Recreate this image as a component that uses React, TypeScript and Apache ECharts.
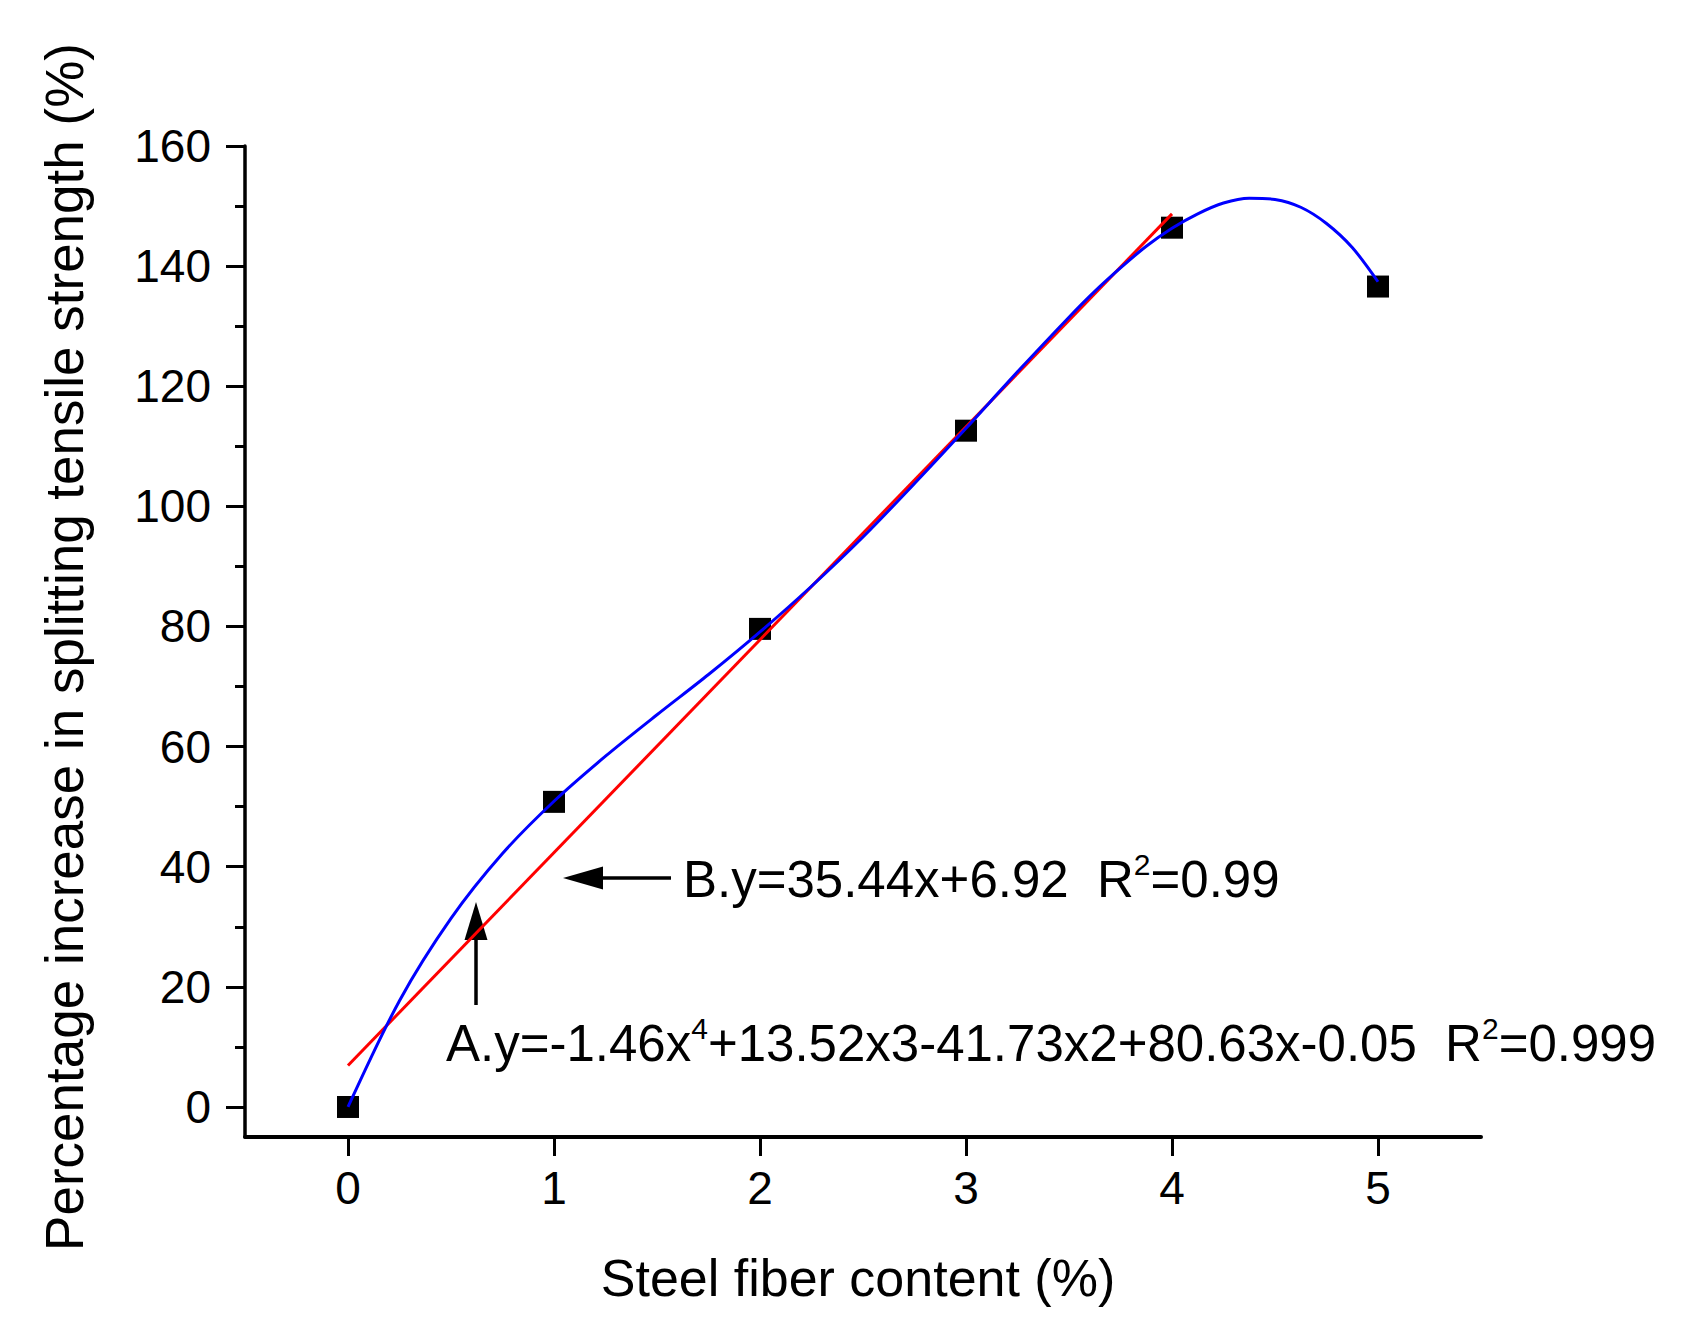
import React, { useEffect, useRef } from "react";
import * as echarts from "echarts";

// ---- data ----
const xTicks = [0, 1, 2, 3, 4, 5];
const yTicks = [0, 20, 40, 60, 80, 100, 120, 140, 160];
const yMinorTicks = [10, 30, 50, 70, 90, 110, 130, 150];

const measuredX = [0, 1, 2, 3, 4, 5];
const measuredY = [0, 50.8, 79.6, 112.6, 146.4, 136.6];

// fitted curve A (blue)
const fitAX = [0, 0.25, 0.5, 0.75, 1, 1.25, 1.5, 1.75, 2, 2.25, 2.5, 2.75, 3, 3.25, 3.5, 3.625, 3.75, 3.875, 4, 4.125, 4.25, 4.375, 4.5, 4.625, 4.75, 4.875, 5];
const fitAY = [0, 17.7, 31.4, 42.2, 50.9, 58.4, 65.3, 72.0, 79.1, 86.7, 94.9, 103.8, 113.0, 122.4, 131.5, 135.8, 139.7, 143.3, 146.3, 148.7, 150.5, 151.3, 151.1, 149.8, 147.1, 143.1, 137.4];

// fitted line B (red)
const fitBX = [0, 4];
const fitBY = [6.9, 148.7];

const xName = "Steel fiber content (%)";
const yName = "Percentage increase in splitting tensile strength (%)";

const FONT = "'Liberation Sans', Arial, sans-serif";

export default function App() {
  const ref = useRef<HTMLDivElement>(null);

  useEffect(() => {
    document.body.style.margin = "0";
    const chart = echarts.init(ref.current!, undefined, { renderer: "svg" });

    const mainStyle = { fontSize: 51, fontFamily: FONT, color: "#000", lineHeight: 60 };
    const supStyle = { fontSize: 30, fontFamily: FONT, color: "#000", lineHeight: 36, verticalAlign: "top" };

    chart.setOption({
      animation: false,
      backgroundColor: "#ffffff",
      grid: { left: 245, top: 146, right: 226, bottom: 199, containLabel: false },
      xAxis: {
        type: "value",
        min: -0.5,
        max: 5.5,
        splitLine: { show: false },
        axisLine: { onZero: false, lineStyle: { color: "#000", width: 4 } },
        axisTick: { show: true, inside: false, length: 19, customValues: xTicks, lineStyle: { color: "#000", width: 3 } },
        axisLabel: { customValues: xTicks, margin: 28, fontSize: 46, fontFamily: FONT, color: "#000" },
      },
      yAxis: [
        {
          type: "value",
          min: -5,
          max: 160,
          splitLine: { show: false },
          axisLine: { onZero: false, lineStyle: { color: "#000", width: 3.5 } },
          axisTick: { show: true, inside: false, length: 19, customValues: yTicks, lineStyle: { color: "#000", width: 3 } },
          axisLabel: { customValues: yTicks, margin: 34, fontSize: 46, fontFamily: FONT, color: "#000" },
        },
        {
          type: "value",
          position: "left",
          min: -5,
          max: 160,
          splitLine: { show: false },
          axisLine: { show: false, onZero: false },
          axisTick: { show: true, inside: false, length: 10, customValues: yMinorTicks, lineStyle: { color: "#000", width: 3 } },
          axisLabel: { show: false },
        },
      ],
      series: [
        {
          type: "scatter",
          data: measuredX.map((x, i) => [x, measuredY[i]]),
          symbol: "rect",
          symbolSize: 22,
          itemStyle: { color: "#000", opacity: 1 },
          z: 1,
        },
        {
          type: "line",
          data: fitBX.map((x, i) => [x, fitBY[i]]),
          symbol: "none",
          lineStyle: { color: "#ff0000", width: 3 },
          z: 2,
        },
        {
          type: "line",
          data: fitAX.map((x, i) => [x, fitAY[i]]),
          symbol: "none",
          smooth: 0.3,
          lineStyle: { color: "#0000ff", width: 3 },
          z: 3,
        },
      ],
      graphic: [
        {
          type: "text",
          x: 64,
          y: 647,
          rotation: Math.PI / 2,
          style: { text: yName, fontSize: 53, fontFamily: FONT, fill: "#000", align: "center", verticalAlign: "middle" },
        },
        {
          type: "text",
          x: 858,
          y: 1278,
          style: { text: xName, fontSize: 52, fontFamily: FONT, fill: "#000", align: "center", verticalAlign: "middle" },
        },
        {
          type: "text",
          x: 683,
          y: 879,
          style: {
            text: "{m|B.y=35.44x+6.92  R}{s|2}{m|=0.99}",
            align: "left",
            verticalAlign: "middle",
            rich: { m: mainStyle, s: supStyle },
          },
        },
        {
          type: "text",
          x: 446,
          y: 1043,
          style: {
            text: "{m|A.y=-1.46x}{s|4}{m|+13.52x3-41.73x2+80.63x-0.05  R}{s|2}{m|=0.999}",
            align: "left",
            verticalAlign: "middle",
            rich: { m: mainStyle, s: supStyle },
          },
        },
        {
          type: "line",
          shape: { x1: 671, y1: 878, x2: 600, y2: 878 },
          style: { stroke: "#000", lineWidth: 3.5 },
        },
        {
          type: "polygon",
          shape: { points: [[563, 878], [603, 866.5], [603, 889.5]] },
          style: { fill: "#000" },
        },
        {
          type: "line",
          shape: { x1: 476, y1: 1005, x2: 476, y2: 935 },
          style: { stroke: "#000", lineWidth: 3.5 },
        },
        {
          type: "polygon",
          shape: { points: [[476, 902], [464.5, 940], [487.5, 940]] },
          style: { fill: "#000" },
        },
      ],
    });

    return () => chart.dispose();
  }, []);

  return <div ref={ref} style={{ width: 1707, height: 1336 }} />;
}
